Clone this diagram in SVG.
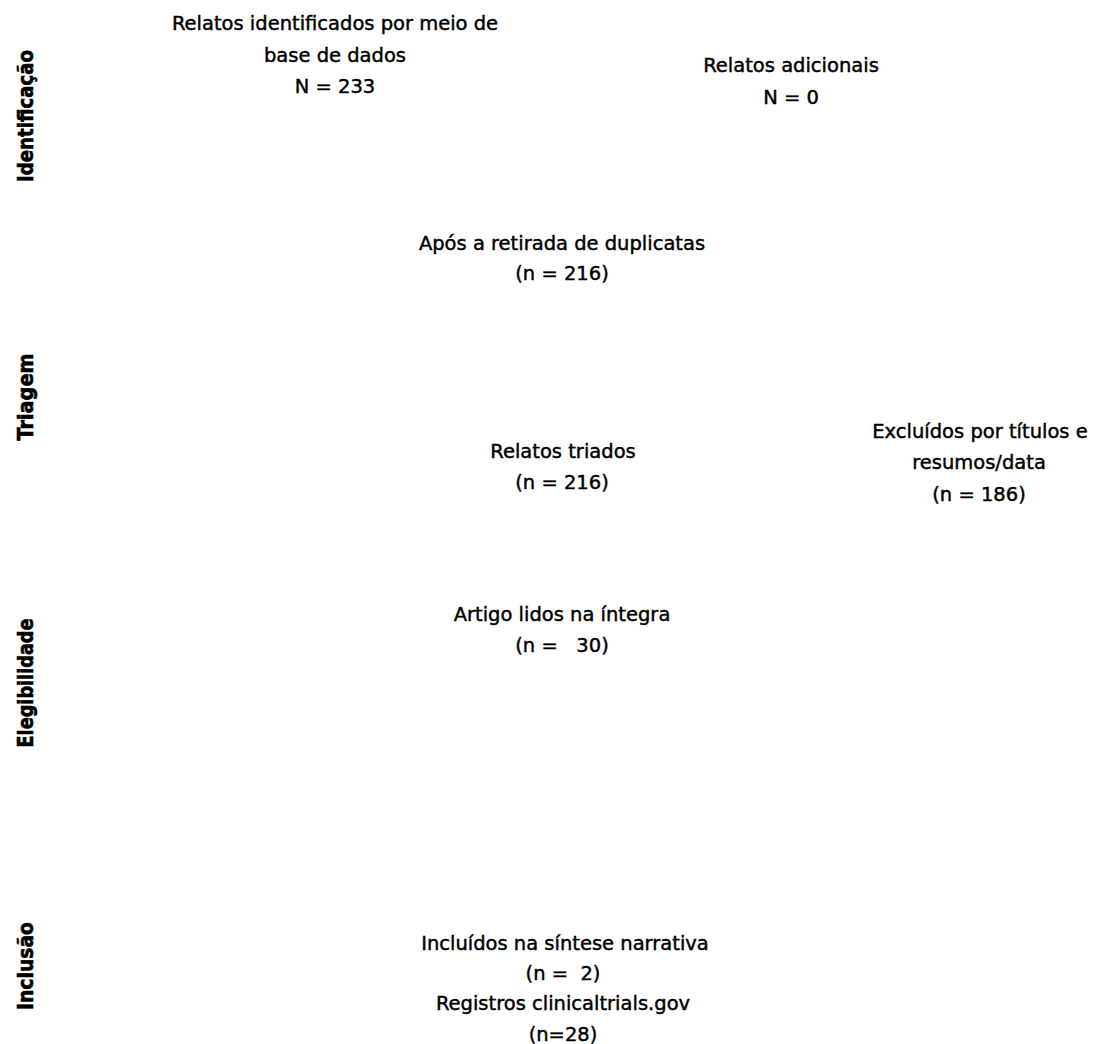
<svg xmlns="http://www.w3.org/2000/svg" width="1120" height="1044" viewBox="0 0 1120 1044">
<style>
.t{font-family:"DejaVu Sans","Liberation Sans",sans-serif;font-size:19.5px;fill:#000;stroke:#000;stroke-width:0.45px;text-anchor:middle}
.v{font-family:"DejaVu Sans","Liberation Sans",sans-serif;font-size:21px;font-weight:bold;fill:#000;stroke:#000;stroke-width:0.6px;text-anchor:middle}
</style>
<rect width="1120" height="1044" fill="#fff"/>
<g id="stages">
<text class="v" transform="translate(32.5,116) rotate(-90)" textLength="132" lengthAdjust="spacingAndGlyphs">Identificação</text>
<text class="v" transform="translate(32.5,397) rotate(-90)" textLength="87" lengthAdjust="spacingAndGlyphs">Triagem</text>
<text class="v" transform="translate(32.5,683) rotate(-90)" textLength="129" lengthAdjust="spacingAndGlyphs">Elegibilidade</text>
<text class="v" transform="translate(32.5,966) rotate(-90)" textLength="88" lengthAdjust="spacingAndGlyphs">Inclusão</text>
</g>
<g id="n-database">
<text class="t" x="335" y="30">Relatos identificados por meio de</text>
<text class="t" x="335" y="62">base de dados</text>
<text class="t" x="335" y="93">N = 233</text>
</g>
<g id="n-additional">
<text class="t" x="791" y="72">Relatos adicionais</text>
<text class="t" x="791" y="104">N = 0</text>
</g>
<g id="n-dedup">
<text class="t" x="562" y="250">Após a retirada de duplicatas</text>
<text class="t" x="562" y="280">(n = 216)</text>
</g>
<g id="n-screened">
<text class="t" x="563" y="458">Relatos triados</text>
<text class="t" x="562" y="489">(n = 216)</text>
</g>
<g id="n-excluded">
<text class="t" x="980" y="438">Excluídos por títulos e</text>
<text class="t" x="979" y="469">resumos/data</text>
<text class="t" x="979" y="501">(n = 186)</text>
</g>
<g id="n-fulltext">
<text class="t" x="562" y="621">Artigo lidos na íntegra</text>
<text class="t" x="562" y="652" xml:space="preserve">(n =   30)</text>
</g>
<g id="n-included">
<text class="t" x="565" y="950">Incluídos na síntese narrativa</text>
<text class="t" x="563" y="980" xml:space="preserve">(n =  2)</text>
<text class="t" x="563" y="1010">Registros clinicaltrials.gov</text>
<text class="t" x="563" y="1041">(n=28)</text>
</g>
<g id="connectors"></g>
</svg>
